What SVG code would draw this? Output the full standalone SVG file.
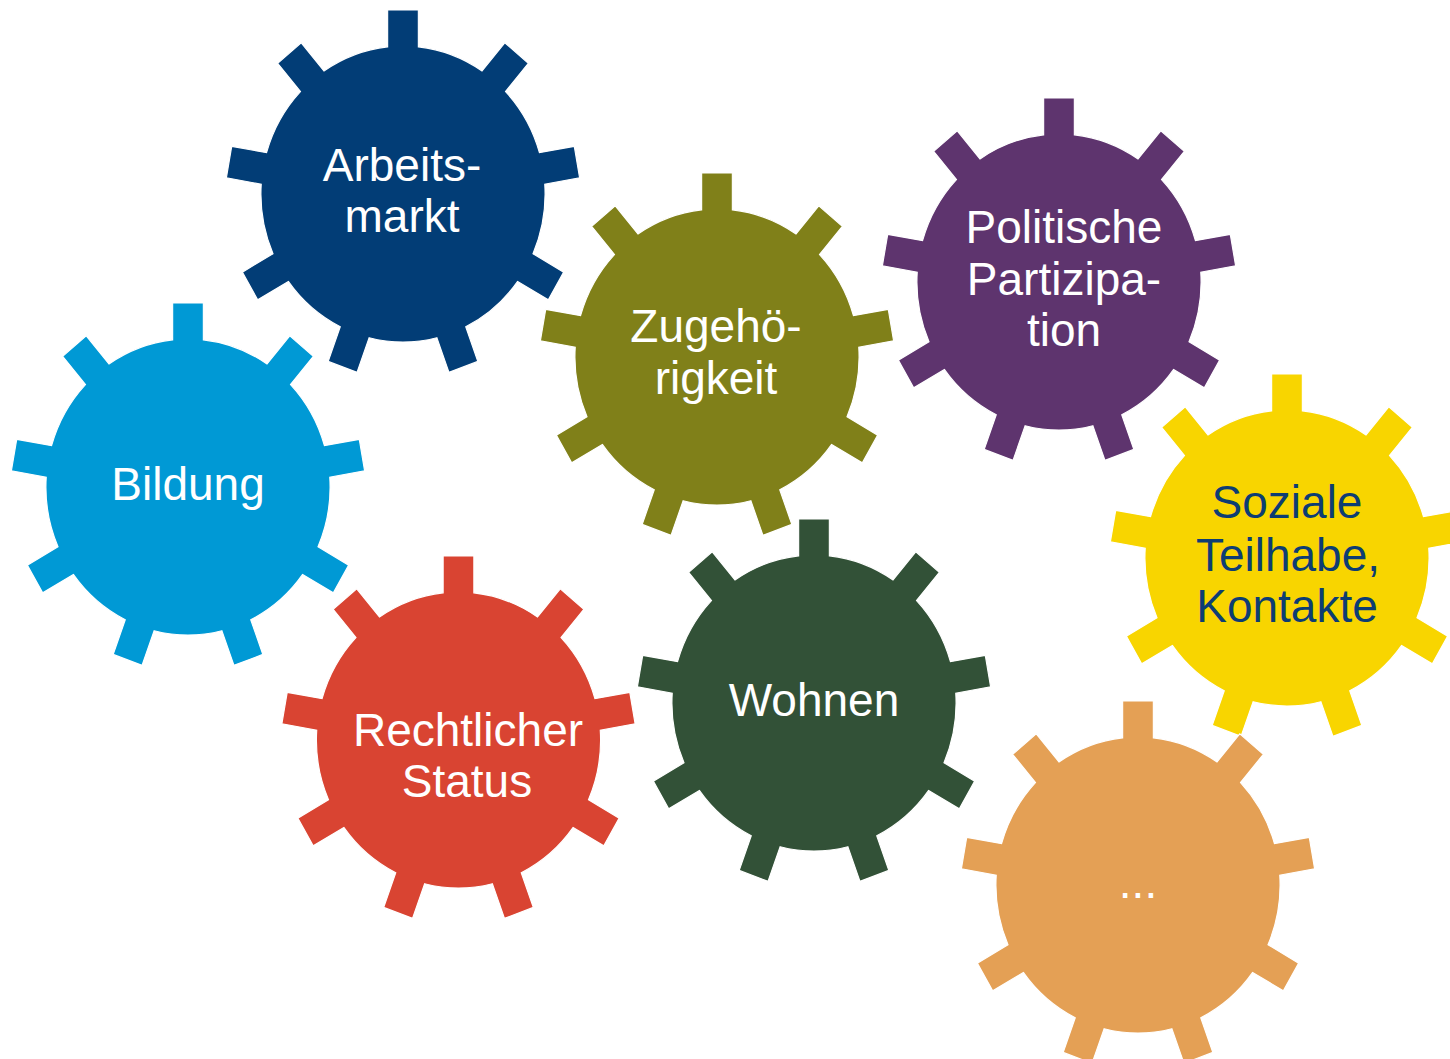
<svg xmlns="http://www.w3.org/2000/svg" xmlns:xlink="http://www.w3.org/1999/xlink" width="1450" height="1059" viewBox="0 0 1450 1059">
  <style>
    .lbl { font-family: "Liberation Sans", Arial, sans-serif; font-size: 46px; text-anchor: middle; fill: #ffffff; }
    .lbl.dark { fill: #0d3d73; }
    .gear { stroke: #ffffff; stroke-width: 1.2; vector-effect: non-scaling-stroke; }
  </style>
  <defs>
    <!-- nine-tooth cog, body radius 148, tooth tip radius 184 -->
    <path id="cog" d="M -16,-147.13 L -16,-184 L 16,-184 L 16,-147.13
      A 148 148 0 0 1 82.31,-122.99 L 106.01,-151.23 L 130.53,-130.67 L 106.83,-102.43
      A 148 148 0 0 1 142.12,-41.31 L 178.42,-47.71 L 183.98,-16.19 L 147.68,-9.79
      A 148 148 0 0 1 135.42,59.71 L 167.35,78.14 L 151.35,105.86 L 119.42,87.42
      A 148 148 0 0 1 65.36,132.79 L 77.97,167.43 L 47.89,178.37 L 35.28,143.73
      A 148 148 0 0 1 -35.28,143.73 L -47.89,178.37 L -77.97,167.43 L -65.36,132.79
      A 148 148 0 0 1 -119.42,87.42 L -151.35,105.86 L -167.35,78.14 L -135.42,59.71
      A 148 148 0 0 1 -147.68,-9.79 L -183.98,-16.19 L -178.42,-47.71 L -142.12,-41.31
      A 148 148 0 0 1 -106.83,-102.43 L -130.53,-130.67 L -106.01,-151.23 L -82.31,-122.99
      A 148 148 0 0 1 -16,-147.13 Z"/>
  </defs>

  <rect width="1450" height="1059" fill="#ffffff"/>

  <g id="connectors"></g>

  <g id="arbeitsmarkt">
    <use href="#cog" xlink:href="#cog" class="gear" fill="#023d76" transform="translate(403,194) scale(0.96,1)"/>
    <text class="lbl" x="402" y="181">Arbeits-</text>
    <text class="lbl" x="402" y="232">markt</text>
  </g>

  <g id="bildung">
    <use href="#cog" xlink:href="#cog" class="gear" fill="#0099d5" transform="translate(188,487) scale(0.96,1)"/>
    <text class="lbl" x="188" y="500">Bildung</text>
  </g>

  <g id="zugehoerigkeit">
    <use href="#cog" xlink:href="#cog" class="gear" fill="#808019" transform="translate(717,357) scale(0.96,1)"/>
    <text class="lbl" x="716" y="342">Zugehö-</text>
    <text class="lbl" x="716" y="394">rigkeit</text>
  </g>

  <g id="politische-partizipation">
    <use href="#cog" xlink:href="#cog" class="gear" fill="#5e346e" transform="translate(1059,282) scale(0.96,1)"/>
    <text class="lbl" x="1064" y="243">Politische</text>
    <text class="lbl" x="1064" y="295">Partizipa-</text>
    <text class="lbl" x="1064" y="346">tion</text>
  </g>

  <g id="soziale-teilhabe">
    <use href="#cog" xlink:href="#cog" class="gear" fill="#f8d500" transform="translate(1287,558) scale(0.96,1)"/>
    <text class="lbl dark" x="1287" y="518">Soziale</text>
    <text class="lbl dark" x="1288" y="571">Teilhabe,</text>
    <text class="lbl dark" x="1287" y="622">Kontakte</text>
  </g>

  <g id="rechtlicher-status">
    <use href="#cog" xlink:href="#cog" class="gear" fill="#d94432" transform="translate(458.5,740) scale(0.96,1)"/>
    <text class="lbl" x="468" y="746">Rechtlicher</text>
    <text class="lbl" x="467" y="797">Status</text>
  </g>

  <g id="wohnen">
    <use href="#cog" xlink:href="#cog" class="gear" fill="#325137" transform="translate(814,703) scale(0.96,1)"/>
    <text class="lbl" x="814" y="716">Wohnen</text>
  </g>

  <g id="weitere">
    <use href="#cog" xlink:href="#cog" class="gear" fill="#e4a055" transform="translate(1138,885) scale(0.96,1)"/>
    <text class="lbl" x="1138" y="898">...</text>
  </g>
</svg>
